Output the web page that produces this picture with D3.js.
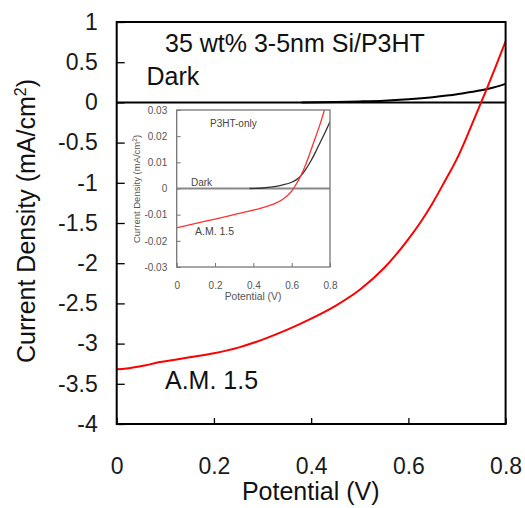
<!DOCTYPE html>
<html>
<head>
<meta charset="utf-8">
<script src="https://cdn.jsdelivr.net/npm/d3@7"></script>
<style>
  html, body { margin: 0; padding: 0; background: #fff; }
  svg { display: block; font-family: "Liberation Sans", Arial, sans-serif; }
</style>
</head>
<body>
<svg id="chart" width="525" height="508"></svg>
<script>
// Main plot: 35 wt% Si/P3HT
const mainXTicks = [0, 0.2, 0.4, 0.6, 0.8];
const mainYTicks = [1, 0.5, 0, -0.5, -1, -1.5, -2, -2.5, -3, -3.5, -4];

const lightV = [0, 0.02, 0.04, 0.06, 0.08, 0.1, 0.12, 0.15, 0.2, 0.25, 0.3, 0.35, 0.4, 0.45, 0.5, 0.55, 0.6, 0.625, 0.65, 0.675, 0.7, 0.72, 0.74, 0.76, 0.78, 0.8];
const lightI = [-3.32, -3.31, -3.29, -3.27, -3.24, -3.22, -3.20, -3.17, -3.12, -3.05, -2.95, -2.83, -2.69, -2.53, -2.33, -2.06, -1.70, -1.49, -1.25, -0.98, -0.70, -0.43, -0.14, 0.15, 0.45, 0.76];

const darkV = [0.38, 0.45, 0.5, 0.55, 0.6, 0.65, 0.7, 0.725, 0.75, 0.775, 0.8];
const darkI = [0, 0.005, 0.012, 0.022, 0.04, 0.065, 0.1, 0.125, 0.15, 0.185, 0.23];

// Inset: P3HT-only
const insetXTicks = [0, 0.2, 0.4, 0.6, 0.8];
const insetYTicks = [0.03, 0.02, 0.01, 0, -0.01, -0.02, -0.03];

const insetLightV = [0, 0.1, 0.2, 0.3, 0.4, 0.45, 0.5, 0.55, 0.6, 0.625, 0.65, 0.675, 0.7, 0.725, 0.75, 0.775];
const insetLightI = [-0.0150, -0.0133, -0.0117, -0.0100, -0.0083, -0.0073, -0.0061, -0.0043, -0.0010, 0.0018, 0.0052, 0.0095, 0.0145, 0.0197, 0.0250, 0.0310];

const insetDarkV = [0.38, 0.45, 0.5, 0.55, 0.6, 0.625, 0.65, 0.675, 0.7, 0.725, 0.75, 0.775, 0.8];
const insetDarkI = [0, 0.0002, 0.0006, 0.0013, 0.0024, 0.0034, 0.0050, 0.0075, 0.0105, 0.0140, 0.0178, 0.0215, 0.0255];

const zip = (xs, ys) => xs.map((v, i) => ({ v: v, i: ys[i] }));

const svg = d3.select("#chart");

// ---- main plot ----
const x = d3.scaleLinear().domain([0, 0.8]).range([116.7, 505.6]);
const y = d3.scaleLinear().domain([-4, 1]).range([424, 22]);

const line = d3.line().x(d => x(d.v)).y(d => y(d.i)).curve(d3.curveMonotoneX);

const yAxis = svg.append("g")
    .attr("transform", `translate(${x(0)},0)`)
    .call(d3.axisLeft(y).tickValues(mainYTicks).tickSizeInner(-8).tickSizeOuter(0).tickPadding(19)
        .tickFormat(d => d3.format("")(d).replace("−", "-")));
yAxis.select(".domain").remove();
yAxis.selectAll(".tick line").attr("stroke", "#000").attr("stroke-width", 1.3);
yAxis.selectAll("text").attr("font-size", 23).attr("fill", "#1a1a1a").attr("font-family", "Liberation Sans, Arial, sans-serif");

const xAxis = svg.append("g")
    .attr("transform", `translate(0,${y(-4)})`)
    .call(d3.axisBottom(x).tickValues(mainXTicks).tickSizeInner(-6).tickSizeOuter(0).tickPadding(34)
        .tickFormat(d3.format("")));
xAxis.select(".domain").remove();
xAxis.selectAll(".tick line").attr("stroke", "#000").attr("stroke-width", 1.3);
xAxis.selectAll("text").attr("font-size", 23).attr("fill", "#1a1a1a").attr("font-family", "Liberation Sans, Arial, sans-serif");

// zero line
svg.append("line")
    .attr("x1", x(0)).attr("x2", x(0.8))
    .attr("y1", y(0)).attr("y2", y(0))
    .attr("stroke", "#000").attr("stroke-width", 2);

svg.append("defs").append("clipPath").attr("id", "mainClip")
  .append("rect")
    .attr("x", x(0)).attr("y", y(1))
    .attr("width", x(0.8) - x(0)).attr("height", y(-4) - y(1));

svg.append("path")
    .datum(zip(darkV, darkI))
    .attr("clip-path", "url(#mainClip)")
    .attr("fill", "none").attr("stroke", "#000").attr("stroke-width", 2)
    .attr("d", line);

svg.append("path")
    .datum(zip(lightV, lightI))
    .attr("clip-path", "url(#mainClip)")
    .attr("fill", "none").attr("stroke", "#ff0000").attr("stroke-width", 2)
    .attr("d", line);

svg.append("rect")
    .attr("x", x(0)).attr("y", y(1))
    .attr("width", x(0.8) - x(0)).attr("height", y(-4) - y(1))
    .attr("fill", "none").attr("stroke", "#000").attr("stroke-width", 2);

svg.append("text").attr("x", 165).attr("y", 52)
    .attr("font-size", 25).attr("fill", "#111").text("35 wt% 3-5nm Si/P3HT");
svg.append("text").attr("x", 146.5).attr("y", 85)
    .attr("font-size", 25).attr("fill", "#111").text("Dark");
svg.append("text").attr("x", 165).attr("y", 389)
    .attr("font-size", 25).attr("fill", "#111").text("A.M. 1.5");

svg.append("text").attr("x", 310.7).attr("y", 500)
    .attr("text-anchor", "middle").attr("font-size", 25).attr("fill", "#111")
    .text("Potential (V)");

const yTitle = svg.append("text")
    .attr("transform", "translate(35,221) rotate(-90)")
    .attr("text-anchor", "middle").attr("font-size", 25).attr("fill", "#111");
yTitle.append("tspan").text("Current Density (mA/cm");
yTitle.append("tspan").attr("font-size", 16).attr("dy", -9).text("2");
yTitle.append("tspan").attr("dy", 9).text(")");

// ---- inset ----
const ix = d3.scaleLinear().domain([0, 0.8]).range([176.7, 330]);
const iy = d3.scaleLinear().domain([-0.03, 0.03]).range([267, 110]);
const iline = d3.line().x(d => ix(d.v)).y(d => iy(d.i)).curve(d3.curveMonotoneX);

svg.append("rect")
    .attr("x", ix(0)).attr("y", iy(0.03))
    .attr("width", ix(0.8) - ix(0)).attr("height", iy(-0.03) - iy(0.03))
    .attr("fill", "#fff");

svg.select("defs").append("clipPath").attr("id", "insetClip")
  .append("rect")
    .attr("x", ix(0)).attr("y", iy(0.03))
    .attr("width", ix(0.8) - ix(0)).attr("height", iy(-0.03) - iy(0.03));

const iyAxis = svg.append("g")
    .attr("transform", `translate(${ix(0)},0)`)
    .call(d3.axisLeft(iy).tickValues(insetYTicks).tickSizeInner(-4).tickSizeOuter(0).tickPadding(9.5)
        .tickFormat(d => d === 0 ? "0" : d3.format(".2f")(d).replace("−", "-")));
iyAxis.select(".domain").remove();
iyAxis.selectAll(".tick line").attr("stroke", "#777");
iyAxis.selectAll("text").attr("font-size", 10).attr("fill", "#555").attr("font-family", "Liberation Sans, Arial, sans-serif");

const ixAxis = svg.append("g")
    .attr("transform", `translate(0,${iy(-0.03)})`)
    .call(d3.axisBottom(ix).tickValues(insetXTicks).tickSizeInner(-4).tickSizeOuter(0).tickPadding(14.5)
        .tickFormat(d3.format("")));
ixAxis.select(".domain").remove();
ixAxis.selectAll(".tick line").attr("stroke", "#777");
ixAxis.selectAll("text").attr("font-size", 10).attr("fill", "#555").attr("font-family", "Liberation Sans, Arial, sans-serif");

svg.append("line")
    .attr("x1", ix(0)).attr("x2", ix(0.8))
    .attr("y1", iy(0)).attr("y2", iy(0))
    .attr("stroke", "#888").attr("stroke-width", 2);

svg.append("path")
    .datum(zip(insetDarkV, insetDarkI))
    .attr("clip-path", "url(#insetClip)")
    .attr("fill", "none").attr("stroke", "#333").attr("stroke-width", 1.3)
    .attr("d", iline);

svg.append("path")
    .datum(zip(insetLightV, insetLightI))
    .attr("clip-path", "url(#insetClip)")
    .attr("fill", "none").attr("stroke", "#ff3030").attr("stroke-width", 1.3)
    .attr("d", iline);

svg.append("rect")
    .attr("x", ix(0)).attr("y", iy(0.03))
    .attr("width", ix(0.8) - ix(0)).attr("height", iy(-0.03) - iy(0.03))
    .attr("fill", "none").attr("stroke", "#777").attr("stroke-width", 1.3);

svg.append("text").attr("x", 210).attr("y", 126.5)
    .attr("font-size", 10).attr("fill", "#444").text("P3HT-only");
svg.append("text").attr("x", 191).attr("y", 186)
    .attr("font-size", 10).attr("fill", "#444").text("Dark");
svg.append("text").attr("x", 195).attr("y", 235)
    .attr("font-size", 10.5).attr("fill", "#444").text("A.M. 1.5");

svg.append("text").attr("x", 253).attr("y", 300)
    .attr("text-anchor", "middle").attr("font-size", 10.3).attr("fill", "#555")
    .text("Potential (V)");

const iyTitle = svg.append("text")
    .attr("transform", "translate(140,189) rotate(-90)")
    .attr("text-anchor", "middle").attr("font-size", 9.5).attr("fill", "#555");
iyTitle.append("tspan").text("Current Density (mA/cm");
iyTitle.append("tspan").attr("font-size", 6.5).attr("dy", -3.5).text("2");
iyTitle.append("tspan").attr("dy", 3.5).text(")");
</script>
</body>
</html>
